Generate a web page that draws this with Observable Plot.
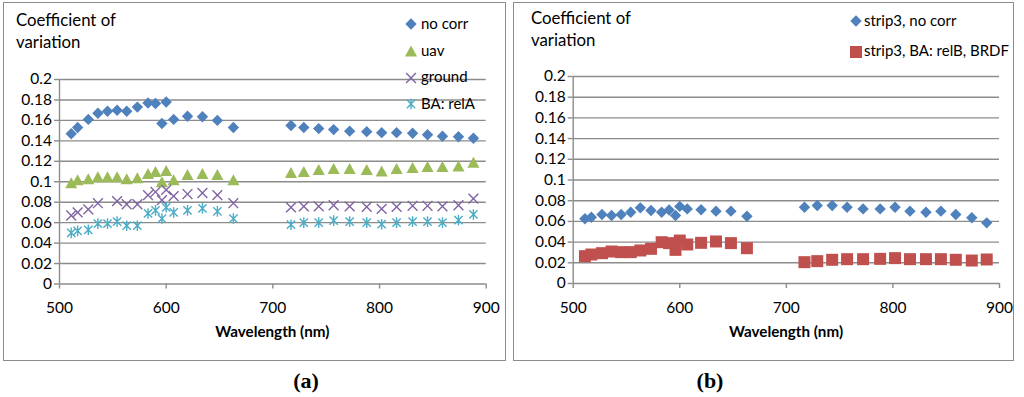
<!DOCTYPE html>
<html>
<head>
<meta charset="utf-8">
<script src="https://cdn.jsdelivr.net/npm/d3@7"></script>
<script src="https://cdn.jsdelivr.net/npm/@observablehq/plot@0.6"></script>
<style>
  html, body { margin: 0; padding: 0; background: #fff; }
  body { width: 1024px; height: 397px; position: relative; overflow: hidden; font-family: Lato, "Open Sans", sans-serif; color: #000; }
  .panel { position: absolute; border: 1.5px solid #8c8c8c; box-sizing: border-box; }
  .abs { position: absolute; white-space: nowrap; line-height: 1; }
  .chart { position: absolute; left: 0; top: 0; }
</style>
</head>
<body>
<script>
// ---------------- data ----------------
const wavelengths = [511,517,527,536,545,554,563,573,583,590,596,600,607,620,634,648,663,
                     717,729,743,757,772,788,802,816,831,845,859,874,888];
const noCorr = [0.147,0.153,0.161,0.167,0.169,0.170,0.169,0.173,0.177,0.1765,0.157,0.178,0.161,0.164,0.1635,0.160,0.153,
                0.155,0.153,0.152,0.151,0.1495,0.149,0.148,0.148,0.1475,0.146,0.1445,0.144,0.1425];
const uav = [0.099,0.102,0.103,0.105,0.105,0.105,0.103,0.104,0.108,0.110,0.100,0.111,0.102,0.107,0.108,0.107,0.102,
             0.109,0.110,0.112,0.113,0.113,0.112,0.1105,0.113,0.114,0.115,0.115,0.1155,0.119];
const ground = [0.067,0.070,0.073,0.079,null,0.081,0.078,0.078,0.087,0.090,0.082,0.092,0.086,0.088,0.089,0.087,0.079,
                0.075,0.076,0.076,0.077,0.076,0.0755,0.0735,0.0755,0.0765,0.0765,0.076,0.077,0.0835];
const baRelA = [0.050,0.052,0.053,0.059,0.059,0.061,0.057,0.057,0.069,0.072,0.064,0.075,0.070,0.072,0.074,0.071,0.064,
                0.058,0.060,0.060,0.062,0.061,0.060,0.0585,0.060,0.061,0.061,0.060,0.0625,0.068];
const strip3NoCorr = [0.0625,0.064,0.0667,0.0657,0.0667,0.0689,0.0731,0.0705,0.0689,0.071,0.0657,0.0745,0.0721,0.0712,0.0699,0.0699,0.065,
                      0.0737,0.0754,0.0754,0.0737,0.0721,0.0721,0.0737,0.0699,0.0689,0.0699,0.0667,0.0635,0.0586];
const strip3BA = [0.0264,0.028,0.0293,0.0309,0.0303,0.0303,0.0319,0.0335,0.0399,0.039,0.0325,0.0415,0.0377,0.0393,0.0406,0.039,0.0341,
                  0.0206,0.0216,0.0229,0.0235,0.0235,0.0238,0.0245,0.0235,0.0235,0.0235,0.0229,0.0222,0.0232];
const xTicks = [500,600,700,800,900];
const yTicks = [0,0.02,0.04,0.06,0.08,0.1,0.12,0.14,0.16,0.18,0.2];
const seriesNamesA = ["no corr","uav","ground","BA: relA"];
const seriesNamesB = ["strip3, no corr","strip3, BA: relB, BRDF"];
const yTitle = ["Coefficient of","variation"];
const xTitle = "Wavelength (nm)";
const panelTags = ["(a)","(b)"];

// ---------------- symbols ----------------
const R = s => Math.sqrt(s / Math.PI);
const symDiamond = {draw(c, s){const r=R(s); c.moveTo(0,-r); c.lineTo(r,0); c.lineTo(0,r); c.lineTo(-r,0); c.closePath();}};
const symTriangle = {draw(c, s){const r=R(s); c.moveTo(0,-r); c.lineTo(1.1*r,r); c.lineTo(-1.1*r,r); c.closePath();}};
const symTimes = {draw(c, s){const r=R(s); c.moveTo(-r,-r); c.lineTo(r,r); c.moveTo(r,-r); c.lineTo(-r,r);}};
const symStar = {draw(c, s){const r=R(s), q=0.78*r; c.moveTo(-q,-q); c.lineTo(q,q); c.moveTo(q,-q); c.lineTo(-q,q); c.moveTo(0,-r); c.lineTo(0,r);}};
const symSquare = {draw(c, s){const r=R(s); c.rect(-r,-r,2*r,2*r);}};

const BLUE="#4F81BD", GREEN="#9BBB59", PURPLE="#8064A2", CYAN="#4BACC6", RED="#C0504D", GRID="#8c8c8c";

const styleA = [
  {sym: symDiamond, r: 5.7, fill: BLUE},
  {sym: symTriangle, r: 5.5, fill: GREEN},
  {sym: symTimes, r: 4.9, stroke: PURPLE},
  {sym: symStar, r: 5.3, stroke: CYAN}
];
const styleB = [
  {sym: symDiamond, r: 5.7, fill: BLUE},
  {sym: symSquare, r: 6, fill: RED}
];

function rows(values){ return wavelengths.map((w,i)=>({x:w, y:values[i]})); }

function dotMark(values, st){
  const o = {x:"x", y:"y", r: st.r, symbol: st.sym};
  if (st.fill) { o.fill = st.fill; o.stroke = "none"; }
  else { o.fill = "none"; o.stroke = st.stroke; o.strokeWidth = 1.4; }
  return Plot.dot(rows(values).filter(d => d.y != null), o);
}

function makeChart(series, styles, m){
  return Plot.plot({
    width: m.width, height: 360,
    marginLeft: m.left, marginRight: m.right, marginTop: m.top, marginBottom: m.bottom,
    x: {domain: [xTicks[0], xTicks[xTicks.length-1]]},
    y: {domain: [yTicks[0], yTicks[yTicks.length-1]]},
    style: {fontFamily: "Lato", fontSize: "15.5px", color: "#000", background: "transparent", overflow: "visible"},
    marks: [
      Plot.ruleY(yTicks, {stroke: GRID, strokeWidth: 1.4}),
      Plot.ruleX([xTicks[0]], {stroke: GRID, strokeWidth: 1.4}),
      Plot.axisY(yTicks, {tickSize: 5, tickPadding: 2.5, stroke: GRID, strokeWidth: 1.4, fill: "#000",
                          tickFormat: d => String(+d.toFixed(2)), label: null}),
      Plot.axisX(xTicks, {tickSize: 5, tickPadding: 13, stroke: GRID, strokeWidth: 1.4, fill: "#000", label: null}),
      ...series.map((s,i) => dotMark(s, styles[i]))
    ]
  });
}

function div(parent, cls, css){ const d = document.createElement("div"); d.className = cls; Object.assign(d.style, css); parent.appendChild(d); return d; }
// place text by baseline (Lato metrics: baseline ≈ top + 0.887em with line-height 1)
function text(str, x, baseline, size, opts={}){
  const d = div(document.body, "abs", {fontSize: size+"px", top: (baseline - (opts.k||0.887)*size)+"px"});
  d.textContent = str;
  if (opts.bold) d.style.fontWeight = "bold";
  if (opts.family) d.style.fontFamily = opts.family;
  if (opts.center) { d.style.left = x+"px"; d.style.transform = "translateX(-50%)"; }
  else d.style.left = x+"px";
  return d;
}
function legendMarker(x, y, st){
  const svg = d3.select(document.body).append("svg").attr("width", 20).attr("height", 20)
    .style("position","absolute").style("left",(x-10)+"px").style("top",(y-10)+"px");
  const p = svg.append("path").attr("transform","translate(10,10)")
    .attr("d", d3.symbol(st.sym, Math.PI*st.r*st.r)());
  if (st.fill) p.attr("fill", st.fill); else p.attr("fill","none").attr("stroke", st.stroke).attr("stroke-width",1.4);
}

// panel borders
div(document.body, "panel", {left:"3px", top:"2px", width:"503px", height:"359px"});
div(document.body, "panel", {left:"513px", top:"2px", width:"501px", height:"359px"});

// charts
const chartA = makeChart([noCorr, uav, ground, baRelA], styleA, {width: 510, left: 59, right: 24.3, top: 79, bottom: 76.5});
chartA.classList.add("chart"); chartA.style.left = "0px"; chartA.style.top = "0px";
document.body.appendChild(chartA);
const chartB = makeChart([strip3NoCorr, strip3BA], styleB, {width: 512, left: 60.7, right: 25, top: 76, bottom: 77});
chartB.classList.add("chart"); chartB.style.left = "512px"; chartB.style.top = "0px";
document.body.appendChild(chartB);

// titles
text(yTitle[0], 16, 26.7, 16.8); text(yTitle[1], 16, 49, 16.8);
text(yTitle[0], 531, 25, 16.8); text(yTitle[1], 531, 46.7, 16.8);
// x titles
text(xTitle, 272.3, 337, 15.2, {bold:true, center:true});
text(xTitle, 786, 337, 15.2, {bold:true, center:true});
// panel tags
text(panelTags[0], 306, 388, 22, {bold:true, center:true, family:"'Liberation Serif', serif", k:0.84});
text(panelTags[1], 710, 388, 22, {bold:true, center:true, family:"'Liberation Serif', serif", k:0.84});
// legends
const legA = [24.3, 51, 77.7, 104.3];
seriesNamesA.forEach((n,i)=>{ legendMarker(411, legA[i], styleA[i]); text(n, 421, legA[i]+5, 15); });
const legB = [21, 51.7];
seriesNamesB.forEach((n,i)=>{ legendMarker(856, legB[i], styleB[i]); text(n, 864, legB[i]+5, 15); });
</script>
</body>
</html>
